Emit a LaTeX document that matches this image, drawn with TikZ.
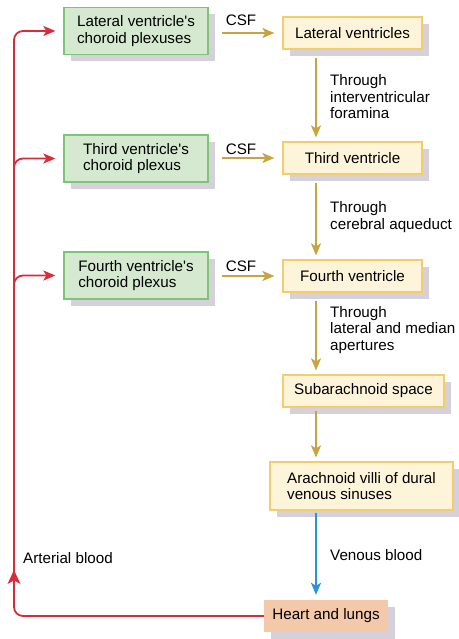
\documentclass[tikz,border=0pt]{standalone}
\usepackage{fontspec}
\setmainfont{Liberation Sans}
\usetikzlibrary{arrows.meta,shadows,calc}
\definecolor{gfill}{HTML}{D4E9CF}
\definecolor{gline}{HTML}{7CC576}
\definecolor{cfill}{HTML}{FDF4DA}
\definecolor{cline}{HTML}{F3CD6A}
\definecolor{pfill}{HTML}{F4C9A9}
\definecolor{shade}{HTML}{D5D0DA}
\definecolor{gold}{HTML}{C9A341}
\definecolor{redl}{HTML}{D92B3A}
\definecolor{bluel}{HTML}{2A93D5}
\newcommand{\apos}{\textquotesingle}
\tikzset{
  txt/.style={font=\fontsize{15.2}{16.5}\selectfont, inner sep=0pt},
  boxbase/.style={txt, rectangle, align=left, general shadow={fill=shade, shadow xshift=7pt, shadow yshift=-7pt}},
  greenbox/.style={boxbase, fill=gfill, draw=gline, line width=1.3pt, minimum width=144pt, minimum height=47pt},
  creambox/.style={boxbase, fill=cfill, draw=cline, line width=1.2pt, minimum height=32pt},
  peachbox/.style={boxbase, fill=pfill, minimum width=124pt, minimum height=32pt},
  tip/.style={-{Stealth[length=12pt,width=10pt,inset=3pt]}},
  garrow/.style={tip, draw=gold, line width=2pt},
  rline/.style={draw=redl, line width=1.8pt},
  rarrow/.style={rline, rounded corners=9pt},
  barrow/.style={tip, draw=bluel, line width=2pt},
  lbl/.style={txt, anchor=west, align=left},
}
\begin{document}
\begin{tikzpicture}[x=1pt,y=-1pt]
\useasboundingbox (0,0) rectangle (458,639);
\coordinate (ax) at (316,0);
% green boxes
\node[greenbox] (lcp) at (136,31) {Lateral ventricle\apos s\\choroid plexuses};
\node[greenbox] (tcp) at (136,158.5) {Third ventricle\apos s\\choroid plexus};
\node[greenbox] (fcp) at (136,275.5) {Fourth ventricle\apos s\\choroid plexus};
% cream boxes
\node[creambox, minimum width=139pt] (lv) at (352.5,33) {Lateral ventricles};
\node[creambox, minimum width=139pt] (tv) at (352.5,158) {Third ventricle};
\node[creambox, minimum width=139pt] (fv) at (352.5,276) {Fourth ventricle};
\node[creambox, minimum width=161pt] (sas) at (363.5,391) {Subarachnoid space};
\node[creambox, minimum width=183pt, minimum height=48pt] (av) at (361.5,486) {Arachnoid villi of dural\\venous sinuses};
\node[peachbox] (hl) at (326,616) {Heart and lungs};
% CSF arrows
\draw[garrow, shorten <=13pt, shorten >=8pt] (lcp.east |- lv.west) -- (lv.west);
\draw[garrow, shorten <=13pt, shorten >=8pt] (tcp.east |- tv.west) -- (tv.west);
\draw[garrow, shorten <=13pt, shorten >=8pt] (fcp.east |- fv.west) -- (fv.west);
\node[txt] (csf1) at (241,20) {CSF};
\node[txt] (csf2) at (241,149) {CSF};
\node[txt] (csf3) at (241,266) {CSF};
% down arrows
\draw[garrow, shorten <=8pt, shorten >=4pt] (lv.south -| ax) -- (tv.north -| ax);
\draw[garrow, shorten <=8pt, shorten >=4pt] (tv.south -| ax) -- (fv.north -| ax);
\draw[garrow, shorten <=8pt, shorten >=4pt] (fv.south -| ax) -- (sas.north -| ax);
\draw[garrow, shorten <=3pt, shorten >=4pt] (sas.south -| ax) -- (av.north -| ax);
\draw[barrow, shorten <=2pt, shorten >=5pt] (av.south -| ax) -- (hl.north -| ax);
\node[lbl] (t1) at (330,97) {Through\\interventricular\\foramina};
\node[lbl] (t2) at (330,217) {Through\\cerebral aqueduct};
\node[lbl] (t3) at (330,330) {Through\\lateral and median\\apertures};
\node[lbl] (vb) at (330,555) {Venous blood};
\node[lbl] (ab) at (23,558) {Arterial blood};
% red arterial loop
\coordinate (ra) at (14,570);
\coordinate (b2) at (14,172);
\coordinate (b3) at (14,290);
\draw[rarrow, tip, shorten >=8pt] (hl.west) -| (ra) |- (lcp.west);
\fill[redl] (ra) -- ++(-6.5,14) -- ++(6.5,-3.5) -- ++(6.5,3.5) -- cycle;
\draw[rarrow, tip, shorten >=8pt] (b2) |- (tcp.west);
\draw[rarrow, tip, shorten >=8pt] (b3) |- (fcp.west);
\end{tikzpicture}
\end{document}
